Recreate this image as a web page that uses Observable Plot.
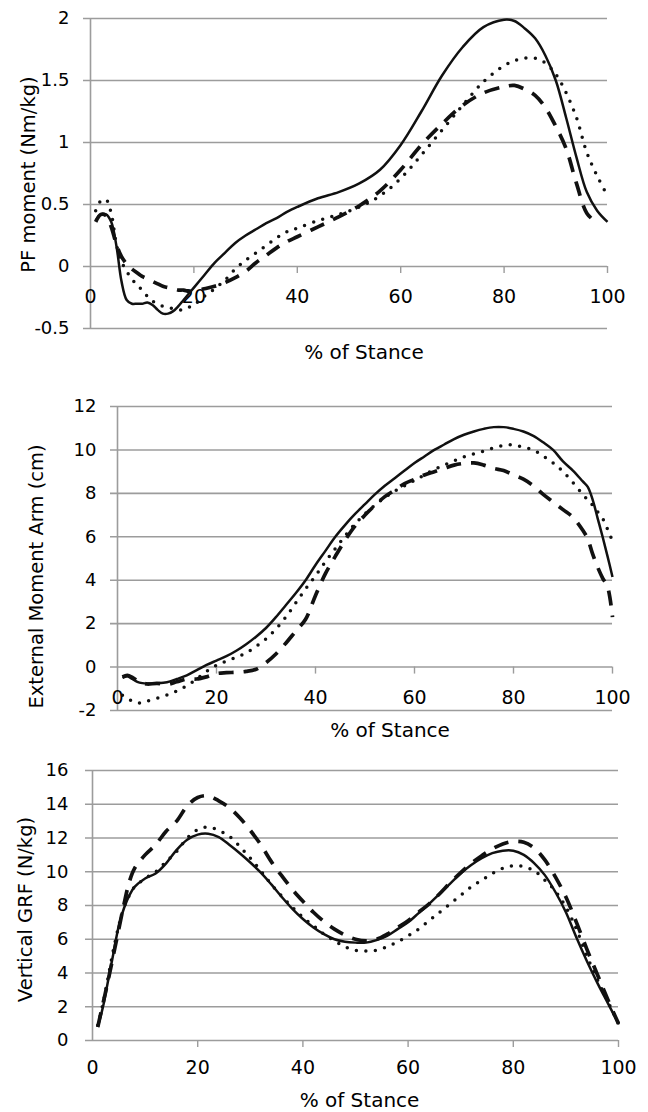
<!DOCTYPE html>
<html>
<head>
<meta charset="utf-8">
<script src="https://cdn.jsdelivr.net/npm/d3@7"></script>
<script src="https://cdn.jsdelivr.net/npm/@observablehq/plot@0.6"></script>
<style>
  html, body { margin: 0; padding: 0; background: #fff; }
  #chart { width: 648px; }
  #chart svg { display: block; }
</style>
</head>
<body>
<div id="chart"></div>
<script>
// ---------- shared ----------
const xTicks = [0, 20, 40, 60, 80, 100];
const xLabel = "% of Stance";

// ---------- panel 1: PF moment ----------
const pfLabel = "PF moment (Nm/kg)";
const pfTicks = [-0.5, 0, 0.5, 1, 1.5, 2];
const pfX = [1,2,3,4,5,6,7,8,9,10,11,12,13,14,15,16,17,18,19,20,
  22,24,26,28,30,32,34,36,38,40,44,48,52,56,60,64,68,72,76,80,
  82,84,86,88,90,92,94,96,98,100];
const pfSolid = [0.37,0.42,0.42,0.36,0.17,-0.12,-0.27,-0.30,-0.30,-0.30,-0.29,-0.31,-0.35,-0.38,-0.38,-0.36,-0.32,-0.27,-0.22,-0.17,
  -0.07,0.03,0.11,0.19,0.25,0.30,0.35,0.39,0.44,0.48,0.55,0.60,0.67,0.78,0.98,1.25,1.54,1.77,1.93,1.99,
  1.98,1.92,1.84,1.70,1.50,1.20,0.88,0.60,0.45,0.36];
const pfDotted = [0.45,0.53,0.54,0.43,0.18,0.04,-0.04,-0.10,-0.15,-0.19,-0.24,-0.28,-0.30,-0.32,-0.33,-0.34,-0.35,-0.35,-0.33,-0.31,
  -0.24,-0.18,-0.11,-0.02,0.05,0.11,0.17,0.23,0.28,0.31,0.37,0.42,0.48,0.57,0.71,0.90,1.10,1.30,1.49,1.62,
  1.66,1.68,1.68,1.64,1.55,1.40,1.20,0.92,0.73,0.57];
const pfDashed = [0.36,0.42,0.41,0.32,0.18,0.08,0.02,-0.02,-0.05,-0.08,-0.10,-0.12,-0.14,-0.16,-0.17,-0.18,-0.19,-0.19,-0.20,-0.20,
  -0.18,-0.16,-0.13,-0.09,-0.04,0.03,0.09,0.15,0.20,0.24,0.32,0.40,0.49,0.61,0.78,0.98,1.15,1.30,1.40,1.45,
  1.46,1.43,1.38,1.28,1.13,0.95,0.67,0.43,0.35,null];

// ---------- panel 2: external moment arm ----------
const armLabel = "External Moment Arm (cm)";
const armTicks = [-2, 0, 2, 4, 6, 8, 10, 12];
const armX = [1,2,3,4,5,6,8,10,12,14,16,18,20,22,24,26,28,30,32,34,36,38,40,42,44,46,48,50,
  52,54,56,58,60,62,64,66,68,70,72,74,76,78,80,82,84,86,88,90,92,94,95,96,97,98,99,100];
const armSolid = [-0.50,-0.42,-0.55,-0.68,-0.74,-0.76,-0.75,-0.70,-0.55,-0.38,-0.14,0.10,0.30,0.50,0.75,1.05,1.40,1.80,2.30,2.85,3.40,4.00,4.70,5.35,6.00,6.55,7.05,7.50,
  7.95,8.35,8.70,9.05,9.40,9.70,10.00,10.25,10.50,10.70,10.85,10.97,11.05,11.05,10.97,10.85,10.65,10.35,10.00,9.47,9.05,8.55,8.30,7.70,6.85,6.00,5.10,4.15];
const armDotted = [-1.30,-1.43,-1.58,-1.65,-1.63,-1.57,-1.43,-1.29,-1.10,-0.85,-0.55,-0.20,0.08,0.28,0.45,0.65,0.95,1.30,1.75,2.30,2.95,3.60,4.20,4.85,5.45,6.05,6.60,7.05,
  7.45,7.80,8.10,8.35,8.60,8.85,9.10,9.30,9.50,9.68,9.82,9.95,10.10,10.20,10.23,10.12,10.00,9.72,9.40,9.00,8.50,7.95,7.70,7.45,7.15,6.85,6.35,5.80];
const armDashed = [-0.45,-0.38,-0.48,-0.62,-0.72,-0.78,-0.75,-0.80,-0.68,-0.55,-0.55,-0.45,-0.30,-0.26,-0.24,-0.20,-0.10,0.20,0.60,1.10,1.65,2.20,3.30,4.30,5.10,5.85,6.50,7.00,
  7.45,7.85,8.15,8.45,8.65,8.85,9.00,9.15,9.30,9.38,9.40,9.30,9.15,9.05,8.85,8.65,8.35,7.95,7.60,7.25,6.90,6.30,5.90,5.20,4.60,4.10,3.70,2.30];

// ---------- panel 3: vertical GRF ----------
const grfLabel = "Vertical GRF (N/kg)";
const grfTicks = [0, 2, 4, 6, 8, 10, 12, 14, 16];
const grfX = [1,2,3,4,5,6,7,8,10,12,14,16,18,20,22,24,26,28,30,32,34,36,38,40,42,44,46,48,
  50,52,54,56,58,60,62,64,66,68,70,72,74,76,78,80,82,84,86,88,90,92,94,96,98,100];
const grfSolid = [0.8,2.0,3.6,5.2,6.8,7.85,8.6,9.1,9.6,9.9,10.5,11.3,11.9,12.2,12.25,12.05,11.6,11.1,10.55,9.95,9.25,8.5,7.8,7.2,6.7,6.3,6.0,5.85,
  5.8,5.8,5.95,6.2,6.6,7.0,7.55,8.1,8.7,9.3,9.9,10.4,10.8,11.1,11.25,11.25,11.0,10.5,9.8,8.8,7.6,6.1,4.7,3.4,2.2,1.0];
const grfDotted = [0.9,2.2,3.8,5.4,6.8,7.9,8.6,9.1,9.6,10.0,10.6,11.2,12.0,12.5,12.65,12.45,12.1,11.5,10.8,10.05,9.25,8.55,7.9,7.3,6.8,6.3,5.9,5.55,
  5.35,5.3,5.35,5.55,5.85,6.2,6.6,7.1,7.6,8.1,8.6,9.1,9.5,9.9,10.2,10.35,10.3,10.05,9.5,8.85,7.9,6.6,5.0,3.6,2.3,1.0];
const grfDashed = [0.8,2.2,3.6,5.1,6.6,8.1,9.4,10.2,11.0,11.6,12.4,13.0,13.9,14.4,14.5,14.2,13.8,13.2,12.45,11.6,10.6,9.75,8.95,8.25,7.6,7.05,6.6,6.25,
  6.0,5.9,6.0,6.3,6.7,7.1,7.6,8.1,8.7,9.35,9.95,10.5,10.95,11.35,11.65,11.8,11.75,11.4,10.7,9.7,8.5,7.0,5.4,3.9,2.4,1.0];

// ---------- drawing ----------
const GRID = "#9c9c9c";
const INK = "#111";
const FONT = "DejaVu Sans";

function rows(xs, ys) {
  return xs.map((x, i) => ({x, y: ys[i]}));
}

function fmt(d) {
  return String(d);
}

function panel(cfg) {
  const lineStyles = [
    {data: cfg.solid, strokeWidth: 2.5},
    {data: cfg.dotted, strokeWidth: 3.5, strokeDasharray: "0 9.5", strokeLinecap: "round"},
    {data: cfg.dashed, strokeWidth: 3.7, strokeDasharray: "15 10"}
  ];
  return Plot.plot({
    width: 648,
    height: cfg.height,
    marginTop: cfg.mt,
    marginBottom: cfg.mb,
    marginLeft: cfg.ml,
    marginRight: cfg.mr,
    x: {domain: [0, 100], axis: null},
    y: {domain: cfg.domain, axis: null},
    style: {fontFamily: FONT, background: "#fff", color: "#000", overflow: "visible"},
    marks: [
      Plot.ruleY(cfg.ticks, {y: d => d, stroke: GRID, strokeWidth: 1.6, insetLeft: -7}),
      Plot.ruleX([0], {x: d => d, stroke: GRID, strokeWidth: 1.6}),
      Plot.ruleX(xTicks.slice(1), {x: d => d, y1: () => 0, y2: () => 0, insetBottom: -7, stroke: GRID, strokeWidth: 1.4}),
      Plot.text(cfg.ticks, {y: d => d, frameAnchor: "left", dx: cfg.yTickDx, textAnchor: "end", text: fmt, fontSize: 18, fill: "#000"}),
      Plot.text(xTicks, {x: d => d, y: () => 0, dy: cfg.xTickDy, text: fmt, fontSize: 19, fill: "#000"}),
      ...lineStyles.map(s => Plot.line(rows(cfg.xs, s.data), {
        x: "x", y: "y", curve: "catmull-rom", stroke: INK,
        strokeWidth: s.strokeWidth,
        strokeDasharray: s.strokeDasharray,
        strokeLinecap: s.strokeLinecap || "butt",
        strokeLinejoin: "round"
      })),
      Plot.text([xLabel], {frameAnchor: "bottom", textAnchor: "middle", dx: cfg.xLabDx, dy: cfg.xLabDy, fontSize: 20, fill: "#000", lineAnchor: "middle"}),
      Plot.text([cfg.label], {frameAnchor: "left", textAnchor: "middle", rotate: -90, dx: cfg.yLabDx, dy: cfg.yLabDy, fontSize: 19.5, fill: "#000", lineAnchor: "middle"})
    ]
  });
}

const chart = document.getElementById("chart");

chart.append(panel({
  xs: pfX, solid: pfSolid, dotted: pfDotted, dashed: pfDashed,
  label: pfLabel, ticks: pfTicks, domain: [-0.5, 2],
  height: 370, mt: 18, mb: 42, ml: 90, mr: 41,
  yTickDx: -21, xTickDy: 30, xLabDx: 15, xLabDy: 24, yLabDx: -62, yLabDy: 1
}));

chart.append(panel({
  xs: armX, solid: armSolid, dotted: armDotted, dashed: armDashed,
  label: armLabel, ticks: armTicks, domain: [-2, 12],
  height: 375, mt: 36, mb: 35, ml: 117, mr: 36,
  yTickDx: -21, xTickDy: 31, xLabDx: 25, xLabDy: 20, yLabDx: -81, yLabDy: 18
}));

chart.append(panel({
  xs: grfX, solid: grfSolid, dotted: grfDotted, dashed: grfDashed,
  label: grfLabel, ticks: grfTicks, domain: [0, 16],
  height: 367, mt: 25, mb: 72, ml: 92, mr: 30,
  yTickDx: -24, xTickDy: 27, xLabDx: 4, xLabDy: 60, yLabDx: -67, yLabDy: 4
}));
</script>
</body>
</html>
